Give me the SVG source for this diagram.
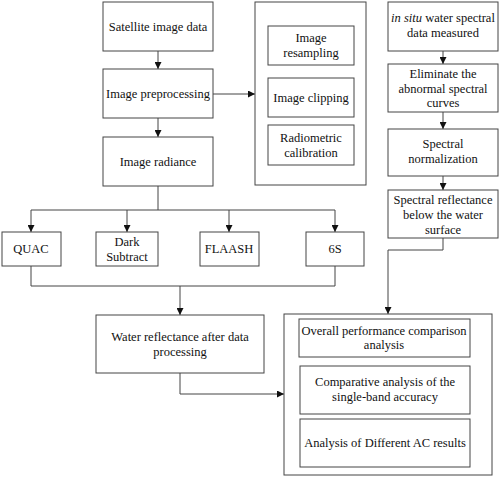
<svg xmlns="http://www.w3.org/2000/svg" width="500" height="477" viewBox="0 0 500 477">
<defs>
<marker id="ah" viewBox="0 0 10 10" refX="10" refY="5" markerWidth="7" markerHeight="7" markerUnits="userSpaceOnUse" orient="auto">
<path d="M0,0 L10,5 L0,10 z" fill="#111"/>
</marker>
<style>
rect{fill:#fff;stroke:#444;stroke-width:1}
text{font-family:"Liberation Serif","Times New Roman",serif;font-size:12.5px;fill:#111;text-anchor:middle}
.c{fill:none;stroke:#444;stroke-width:1}
.a{marker-end:url(#ah)}
</style>
</defs>
<rect x="0" y="0" width="500" height="477" style="fill:#fff;stroke:none"/>
<g id="connectors">
<path class="c a" d="M158,51 V69"/>
<path class="c a" d="M158,118 V137"/>
<path class="c a" d="M213,94 H255"/>
<path class="c" d="M158,186 V210"/>
<path class="c" d="M31,210 H335"/>
<path class="c a" d="M31,210 V232"/>
<path class="c a" d="M127,210 V232"/>
<path class="c a" d="M229,210 V232"/>
<path class="c a" d="M335,210 V232"/>
<path class="c" d="M31,266 V286 H335 V266"/>
<path class="c a" d="M180,286 V315"/>
<path class="c a" d="M180,373 V394 H284"/>
<path class="c a" d="M443,51 V64"/>
<path class="c a" d="M443,112 V129"/>
<path class="c a" d="M443,176 V190"/>
<path class="c a" d="M443,238 V250 H388 V314"/>
</g>
<g id="satellite"><rect x="103" y="2" width="110" height="49"/><text x="158" y="31">Satellite image data</text></g>
<g id="preprocessing"><rect x="103" y="69" width="110" height="49"/><text x="158" y="98">Image preprocessing</text></g>
<g id="radiance"><rect x="103" y="137" width="110" height="49"/><text x="158" y="166">Image radiance</text></g>
<g id="preproc-group"><rect x="255" y="2" width="111" height="183"/></g>
<g id="resampling"><rect x="268" y="26" width="86" height="39"/><text x="311" y="42">Image</text><text x="311" y="57">resampling</text></g>
<g id="clipping"><rect x="268" y="78" width="86" height="39"/><text x="311" y="102">Image clipping</text></g>
<g id="radiometric"><rect x="268" y="125" width="86" height="40"/><text x="311" y="142">Radiometric</text><text x="311" y="157">calibration</text></g>
<g id="insitu"><rect x="388" y="2" width="110" height="49"/><text x="443" y="22"><tspan font-style="italic">in situ</tspan> water spectral</text><text x="443" y="37">data measured</text></g>
<g id="eliminate"><rect x="388" y="64" width="110" height="48"/><text x="443" y="78">Eliminate the</text><text x="443" y="93">abnormal spectral</text><text x="443" y="107">curves</text></g>
<g id="normalization"><rect x="388" y="129" width="110" height="47"/><text x="443" y="148">Spectral</text><text x="443" y="163">normalization</text></g>
<g id="reflectance"><rect x="388" y="190" width="110" height="48"/><text x="443" y="204">Spectral reflectance</text><text x="443" y="219">below the water</text><text x="443" y="234">surface</text></g>
<g id="quac"><rect x="2" y="232" width="59" height="34"/><text x="31" y="253">QUAC</text></g>
<g id="dark"><rect x="96" y="232" width="62" height="34"/><text x="127" y="246">Dark</text><text x="127" y="261">Subtract</text></g>
<g id="flaash"><rect x="200" y="232" width="59" height="34"/><text x="229" y="253">FLAASH</text></g>
<g id="s6"><rect x="306" y="232" width="58" height="34"/><text x="335" y="253">6S</text></g>
<g id="water"><rect x="96" y="315" width="168" height="58"/><text x="180" y="341">Water reflectance after data</text><text x="180" y="356">processing</text></g>
<g id="analysis-group"><rect x="284" y="314" width="208" height="161"/></g>
<g id="overall"><rect x="299" y="319" width="171" height="38"/><text x="384" y="335">Overall performance comparison</text><text x="384" y="349">analysis</text></g>
<g id="comparative"><rect x="300" y="366" width="170" height="48"/><text x="385" y="386">Comparative analysis of the</text><text x="385" y="401">single-band accuracy</text></g>
<g id="different"><rect x="300" y="419" width="170" height="48"/><text x="385" y="447">Analysis of Different AC results</text></g>
</svg>
